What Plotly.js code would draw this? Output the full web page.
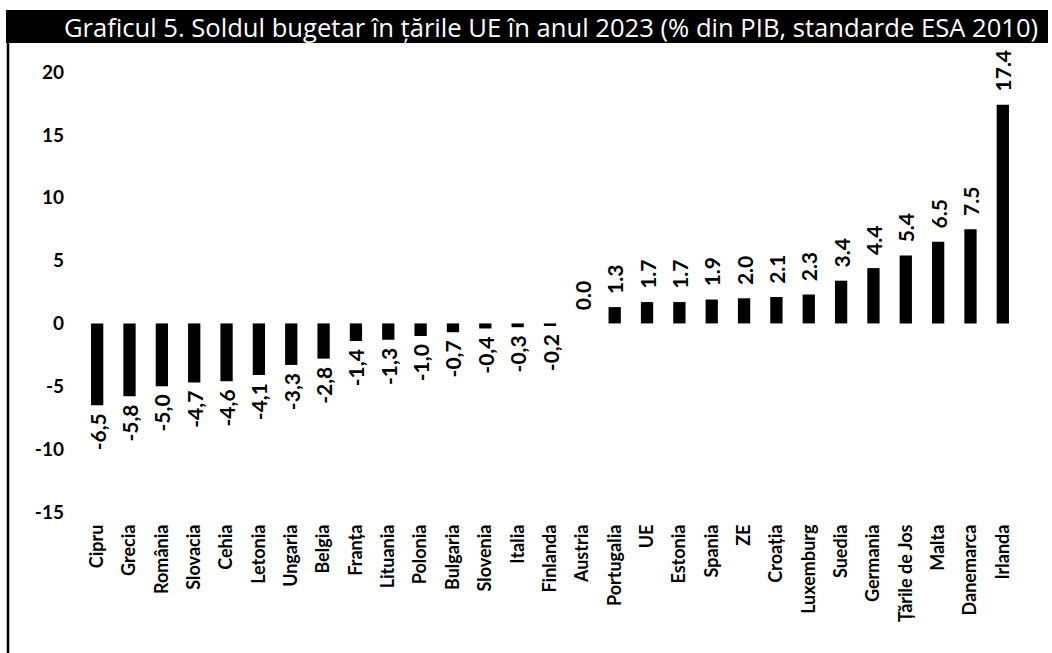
<!DOCTYPE html>
<html>
<head>
<meta charset="utf-8">
<script src="https://cdn.plot.ly/plotly-3.0.1.min.js"></script>
<style>html,body{margin:0;padding:0;background:#fff;}#chart{width:1052px;height:653px;}</style>
</head>
<body>
<div id="chart"></div>
<script>
var categories = ["Cipru","Grecia","România","Slovacia","Cehia","Letonia","Ungaria","Belgia","Franța","Lituania","Polonia","Bulgaria","Slovenia","Italia","Finlanda","Austria","Portugalia","UE","Estonia","Spania","ZE","Croația","Luxemburg","Suedia","Germania","Țările de Jos","Malta","Danemarca","Irlanda"];
var balance = [-6.5,-5.8,-5.0,-4.7,-4.6,-4.1,-3.3,-2.8,-1.4,-1.3,-1.0,-0.7,-0.4,-0.3,-0.2,0.0,1.3,1.7,1.7,1.9,2.0,2.1,2.3,3.4,4.4,5.4,6.5,7.5,17.4];
var yTicks = [-15,-10,-5,0,5,10,15,20];
var titleText = "Graficul 5. Soldul bugetar în țările UE în anul 2023 (% din PIB, standarde ESA 2010)";

var NB = '\u00a0';
var labels = balance.map(function(v){
  var s = v.toFixed(1);
  return v < 0 ? s.replace('.', ',') + NB : NB + NB + s;
});

var W = 1052, H = 653, mL = 81, mR = 33, mT = 72, mB = 141;
var pw = W - mL - mR, ph = H - mT - mB;
function px(x){ return (x - mL) / pw; }
function py(y){ return (H - mB - y) / ph; }

var trace = {
  type: 'bar',
  x: categories,
  y: balance,
  marker: {color: '#000000'},
  text: labels,
  textposition: 'outside',
  textangle: -90,
  constraintext: 'none',
  cliponaxis: false,
  textfont: {family: 'Lato, "Open Sans", sans-serif', size: 21, color: '#000', weight: 'bold'},
  hoverinfo: 'x+y'
};

var layout = {
  width: W, height: H,
  margin: {l: mL, r: mR, t: mT, b: mB, pad: 0},
  paper_bgcolor: '#ffffff',
  plot_bgcolor: '#ffffff',
  showlegend: false,
  bargap: 0.62,
  title: {
    text: titleText,
    x: 551 / W, xref: 'container', xanchor: 'center',
    y: 1 - 28 / H, yref: 'container', yanchor: 'middle',
    font: {family: '"Open Sans", Lato, sans-serif', size: 25.6, color: '#ffffff'}
  },
  xaxis: {
    type: 'category',
    range: [-0.5, 28.5],
    tickangle: -90,
    ticklabelstandoff: 8,
    showgrid: false, zeroline: false, showline: false, ticks: '',
    tickfont: {family: 'Lato, "Open Sans", sans-serif', size: 18, color: '#000', weight: 'bold'}
  },
  yaxis: {
    range: [-15, 20],
    tickvals: yTicks,
    ticktext: yTicks.map(String),
    ticklabelstandoff: 16,
    showgrid: false, zeroline: false, showline: false, ticks: '',
    tickfont: {family: 'Lato, "Open Sans", sans-serif', size: 19, color: '#000', weight: 'bold'}
  },
  shapes: [
    {type: 'rect', xref: 'paper', yref: 'paper', x0: px(6), x1: px(1048), y0: py(43), y1: py(10),
     fillcolor: '#000000', line: {width: 0}, layer: 'below'},
    {type: 'line', xref: 'paper', yref: 'paper', x0: px(8), x1: px(8), y0: py(43), y1: py(653),
     line: {color: '#000000', width: 2.5}}
  ]
};

Plotly.newPlot('chart', [trace], layout, {displayModeBar: false, staticPlot: true});
</script>
</body>
</html>
